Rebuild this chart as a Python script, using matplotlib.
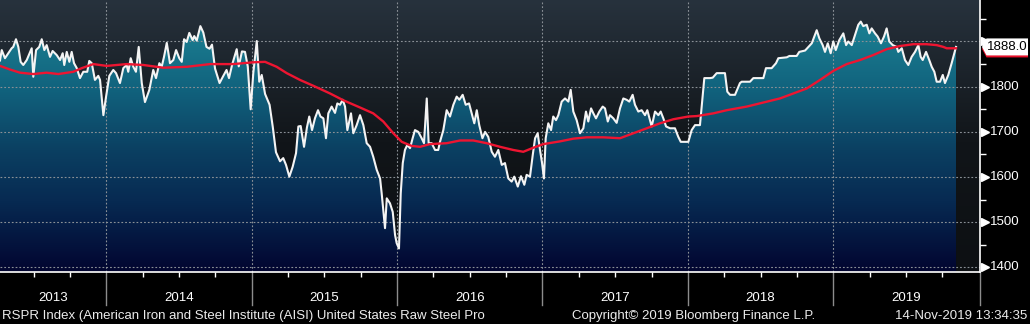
import numpy as np
import matplotlib
matplotlib.use("Agg")
import matplotlib.pyplot as plt
from matplotlib.colors import LinearSegmentedColormap
from matplotlib.patches import Polygon
import matplotlib.transforms as mtransforms

# ---------------- data ----------------
# time in decimal years, weekly RSPR index values
t_white = [
    2013.269, 2013.281, 2013.303, 2013.326, 2013.349, 2013.360, 2013.379, 2013.395, 2013.411, 2013.429,
    2013.453, 2013.487, 2013.498, 2013.517, 2013.539, 2013.556, 2013.574, 2013.590, 2013.613, 2013.631,
    2013.659, 2013.682, 2013.700, 2013.711, 2013.728, 2013.746, 2013.762, 2013.778, 2013.797, 2013.819,
    2013.842, 2013.869, 2013.883, 2013.900, 2013.922, 2013.945, 2013.957, 2013.980, 2013.998, 2014.021,
    2014.048, 2014.067, 2014.094, 2014.117, 2014.140, 2014.151, 2014.168, 2014.186, 2014.204, 2014.223,
    2014.244, 2014.266, 2014.296, 2014.323, 2014.342, 2014.365, 2014.381, 2014.397, 2014.416, 2014.438,
    2014.461, 2014.480, 2014.502, 2014.519, 2014.535, 2014.553, 2014.571, 2014.594, 2014.605, 2014.622,
    2014.647, 2014.667, 2014.689, 2014.710, 2014.727, 2014.748, 2014.779, 2014.805, 2014.827, 2014.844,
    2014.865, 2014.897, 2014.911, 2014.933, 2014.954, 2014.973, 2014.993, 2015.011, 2015.035, 2015.052,
    2015.069, 2015.092, 2015.123, 2015.145, 2015.167, 2015.195, 2015.217, 2015.236, 2015.259, 2015.282,
    2015.305, 2015.321, 2015.337, 2015.360, 2015.380, 2015.396, 2015.415, 2015.435, 2015.456, 2015.473,
    2015.493, 2015.511, 2015.527, 2015.550, 2015.573, 2015.589, 2015.607, 2015.626, 2015.642, 2015.658,
    2015.683, 2015.699, 2015.722, 2015.745, 2015.768, 2015.791, 2015.814, 2015.836, 2015.860, 2015.883,
    2015.894, 2015.905, 2015.917, 2015.929, 2015.951, 2015.970, 2015.986, 2015.997, 2016.013, 2016.025,
    2016.039, 2016.054, 2016.070, 2016.089, 2016.107, 2016.123, 2016.146, 2016.169, 2016.185, 2016.204,
    2016.217, 2016.238, 2016.261, 2016.283, 2016.295, 2016.318, 2016.341, 2016.364, 2016.387, 2016.410,
    2016.428, 2016.451, 2016.472, 2016.495, 2016.513, 2016.531, 2016.548, 2016.565, 2016.587, 2016.605,
    2016.627, 2016.651, 2016.673, 2016.696, 2016.720, 2016.742, 2016.765, 2016.788, 2016.806, 2016.830,
    2016.852, 2016.875, 2016.891, 2016.914, 2016.933, 2016.949, 2016.967, 2016.983, 2016.997, 2017.010,
    2017.022, 2017.040, 2017.059, 2017.074, 2017.093, 2017.109, 2017.132, 2017.155, 2017.178, 2017.194,
    2017.212, 2017.235, 2017.258, 2017.281, 2017.299, 2017.315, 2017.334, 2017.350, 2017.368, 2017.391,
    2017.414, 2017.430, 2017.449, 2017.464, 2017.487, 2017.510, 2017.533, 2017.556, 2017.579, 2017.597,
    2017.620, 2017.636, 2017.659, 2017.682, 2017.705, 2017.721, 2017.751, 2017.774, 2017.797, 2017.813,
    2017.831, 2017.850, 2017.877, 2017.911, 2017.934, 2017.951, 2018.003, 2018.026, 2018.049, 2018.083,
    2018.113, 2018.152, 2018.171, 2018.198, 2018.255, 2018.271, 2018.290, 2018.324, 2018.358, 2018.370,
    2018.427, 2018.450, 2018.519, 2018.537, 2018.576, 2018.606, 2018.622, 2018.680, 2018.698, 2018.748,
    2018.766, 2018.806, 2018.852, 2018.886, 2018.904, 2018.927, 2018.943, 2018.962, 2018.982, 2019.000,
    2019.017, 2019.041, 2019.069, 2019.088, 2019.103, 2019.127, 2019.149, 2019.172, 2019.189, 2019.206,
    2019.230, 2019.248, 2019.264, 2019.287, 2019.305, 2019.328, 2019.349, 2019.367, 2019.385, 2019.409,
    2019.436, 2019.447, 2019.471, 2019.493, 2019.516, 2019.539, 2019.562, 2019.585, 2019.601, 2019.615,
    2019.638, 2019.660, 2019.677, 2019.695, 2019.711, 2019.734, 2019.753, 2019.768, 2019.791, 2019.814,
    2019.844,
]
v_white = [
    1858, 1881, 1863, 1874, 1885, 1888, 1905, 1888, 1855, 1848,
    1859, 1885, 1822, 1881, 1888, 1905, 1881, 1892, 1866, 1879,
    1870, 1859, 1874, 1848, 1877, 1855, 1877, 1852, 1841, 1819,
    1833, 1833, 1857, 1852, 1815, 1824, 1815, 1737, 1777, 1824,
    1837, 1830, 1808, 1841, 1848, 1833, 1863, 1844, 1833, 1888,
    1808, 1766, 1793, 1837, 1819, 1852, 1844, 1866, 1897, 1852,
    1859, 1881, 1863, 1855, 1905, 1899, 1919, 1903, 1912, 1902,
    1934, 1920, 1888, 1884, 1893, 1840, 1808, 1824, 1837, 1819,
    1848, 1883, 1845, 1878, 1877, 1845, 1750, 1830, 1901, 1811,
    1826, 1784, 1760, 1711, 1655, 1635, 1642, 1627, 1601, 1623,
    1653, 1712, 1713, 1667, 1710, 1734, 1704, 1730, 1748, 1734,
    1730, 1686, 1741, 1756, 1742, 1763, 1760, 1771, 1756, 1704,
    1741, 1697, 1715, 1737, 1715, 1675, 1667, 1645, 1616, 1597,
    1564, 1527, 1487, 1553, 1542, 1523, 1472, 1454, 1442, 1564,
    1631, 1660, 1671, 1664, 1686, 1704, 1700, 1686, 1675, 1774,
    1675, 1675, 1660, 1660, 1678, 1704, 1748, 1734, 1760, 1778,
    1771, 1782, 1760, 1763, 1741, 1719, 1748, 1715, 1686, 1700,
    1689, 1656, 1645, 1660, 1627, 1631, 1597, 1590, 1601, 1579,
    1602, 1583, 1605, 1601, 1649, 1686, 1697, 1660, 1631, 1597,
    1686, 1719, 1704, 1734, 1726, 1737, 1767, 1774, 1767, 1793,
    1745, 1726, 1697, 1708, 1745, 1723, 1752, 1741, 1730, 1745,
    1756, 1752, 1723, 1737, 1730, 1720, 1752, 1774, 1771, 1767,
    1782, 1760, 1745, 1748, 1737, 1748, 1712, 1745, 1737, 1745,
    1730, 1712, 1708, 1708, 1689, 1678, 1678, 1704, 1715, 1715,
    1819, 1819, 1820, 1830, 1830, 1789, 1782, 1782, 1808, 1811,
    1811, 1819, 1819, 1841, 1841, 1852, 1863, 1865, 1868, 1868,
    1877, 1880, 1896, 1925, 1907, 1892, 1877, 1896, 1874, 1900,
    1881, 1903, 1918, 1892, 1900, 1892, 1914, 1937, 1944, 1934,
    1937, 1918, 1929, 1918, 1911, 1896, 1911, 1929, 1900, 1892,
    1888, 1877, 1885, 1859, 1848, 1866, 1877, 1892, 1866, 1859,
    1877, 1859, 1844, 1833, 1811, 1811, 1826, 1808, 1826, 1852,
    1888,
]
# moving average (red line)
t_ma = [
    2013.269, 2013.338, 2013.407, 2013.498, 2013.590, 2013.670, 2013.773, 2013.831, 2013.911, 2014.003,
    2014.140, 2014.255, 2014.392, 2014.553, 2014.713, 2014.873, 2015.011, 2015.092, 2015.172, 2015.241,
    2015.332, 2015.424, 2015.539, 2015.630, 2015.745, 2015.836, 2015.905, 2015.974, 2016.032, 2016.100,
    2016.158, 2016.226, 2016.341, 2016.433, 2016.524, 2016.616, 2016.708, 2016.799, 2016.868, 2016.937,
    2017.006, 2017.120, 2017.212, 2017.304, 2017.418, 2017.533, 2017.625, 2017.717, 2017.808, 2017.900,
    2018.003, 2018.061, 2018.175, 2018.267, 2018.405, 2018.519, 2018.633, 2018.725, 2018.817, 2018.909,
    2019.000, 2019.092, 2019.184, 2019.275, 2019.367, 2019.459, 2019.550, 2019.642, 2019.711, 2019.757,
    2019.780, 2019.844,
]
v_ma = [
    1846, 1838, 1831, 1828, 1831, 1828, 1833, 1841, 1850, 1846,
    1850, 1848, 1842, 1844, 1850, 1850, 1854, 1855, 1844, 1830,
    1815, 1802, 1785, 1770, 1754, 1741, 1723, 1697, 1678, 1669,
    1667, 1673, 1675, 1681, 1681, 1675, 1667, 1660, 1656, 1665,
    1673, 1679, 1685, 1688, 1688, 1686, 1697, 1708, 1719, 1728,
    1734, 1735, 1741, 1748, 1756, 1765, 1774, 1785, 1796, 1815,
    1835, 1850, 1859, 1870, 1883, 1890, 1894, 1894, 1892, 1888,
    1885, 1885,
]
years = [2013, 2014, 2015, 2016, 2017, 2018, 2019]
yticks = [1400, 1500, 1600, 1700, 1800, 1900]
last_value = 1888.0
title_text = "RSPR Index (American Iron and Steel Institute (AISI) United States Raw Steel Pro"
copyright_text = "Copyright\u00a9 2019 Bloomberg Finance L.P."
timestamp_text = "14-Nov-2019 13:34:35"

# ---------------- figure ----------------
plt.rcParams['font.family'] = ['Liberation Sans', 'DejaVu Sans']
FIG_W, FIG_H, DPI = 1030, 324, 100
fig = plt.figure(figsize=(FIG_W / DPI, FIG_H / DPI), dpi=DPI, facecolor='black')
AX_RIGHT_PX, AX_BOTTOM_PX = 980, 271.7
ax = fig.add_axes([0, 1 - AX_BOTTOM_PX / FIG_H, AX_RIGHT_PX / FIG_W, AX_BOTTOM_PX / FIG_H])
ax.set_facecolor('black')
XMIN, XMAX = 2013.269, 2020.009
YMIN, YMAX = 1390.7, 1991.8
ax.set_xlim(XMIN, XMAX)
ax.set_ylim(YMIN, YMAX)

grad = np.linspace(0, 1, 512).reshape(-1, 1)
bg_cmap = LinearSegmentedColormap.from_list(
    'bg', [(0.0, '#0d1013'), (0.48, '#111519'), (1.0, '#27323d')])
ax.imshow(grad, extent=[XMIN, XMAX, YMIN, YMAX], origin='lower', aspect='auto',
          cmap=bg_cmap, zorder=0, interpolation='bilinear')

fill_cmap = LinearSegmentedColormap.from_list(
    'fill', [(0.0, '#020530'), (0.26, '#072a52'), (0.45, '#0b4062'),
             (0.67, '#11627d'), (0.93, '#1c8294'), (1.0, '#1f8898')])
img = ax.imshow(grad, extent=[XMIN, XMAX, YMIN, YMAX], origin='lower', aspect='auto',
                cmap=fill_cmap, zorder=1, interpolation='bilinear')
tw = np.asarray(t_white)
vw = np.asarray(v_white)
verts = np.column_stack([np.r_[tw[0], tw, tw[-1]], np.r_[YMIN, vw, YMIN]])
clip = Polygon(verts, closed=True, transform=ax.transData, facecolor='none', edgecolor='none')
ax.add_patch(clip)
img.set_clip_path(clip)

# grid
grid_kw = dict(color='#8a9096', lw=0.8, dashes=(1.6, 1.8), zorder=2)
for y in yticks:
    ax.axhline(y, **grid_kw)
for yr in years[1:]:
    ax.axvline(yr, **grid_kw)

# lines
ax.plot(tw, vw, color='#f4f4f4', lw=1.5, zorder=3, solid_joinstyle='round')
ax.plot(t_ma, v_ma, color='#ee1531', lw=1.7, zorder=4, solid_joinstyle='round')

# spines
for s in ['top', 'left']:
    ax.spines[s].set_visible(False)
for s in ['bottom', 'right']:
    ax.spines[s].set_color('white')
    ax.spines[s].set_linewidth(1.2)
    ax.spines[s].set_zorder(5)

# x ticks
ax.set_xticks(years[1:])
quarters = [yr + q for yr in years for q in (0.25, 0.5, 0.75) if XMIN < yr + q < XMAX]
ax.set_xticks(quarters, minor=True)
ax.tick_params(axis='x', which='major', length=0, labelbottom=False)
ax.tick_params(axis='x', which='minor', length=3.5, width=1, color='white', direction='out')

# y ticks
ax.yaxis.tick_right()
ax.set_yticks(yticks)
ax.set_yticks([y + 50 for y in yticks], minor=True)
ax.tick_params(axis='y', which='major', length=0, labelright=False, labelleft=False)
ax.tick_params(axis='y', which='minor', length=4, width=1, color='white', direction='out')

ytrans = mtransforms.blended_transform_factory(ax.transAxes, ax.transData)
xtrans = mtransforms.blended_transform_factory(ax.transData, ax.transAxes)
ax.plot([1 + 4.5 / AX_RIGHT_PX] * len(yticks), yticks, transform=ytrans, ls='none',
        marker='>', ms=5.5, color='white', mec='white', clip_on=False, zorder=6)
for y in yticks:
    if abs(y - last_value) < 30:
        continue
    ax.text(1 + 10 / AX_RIGHT_PX, y, f"{y}", transform=ytrans, ha='left', va='center',
            color='white', fontsize=9.5)

# year separators and labels
sep_len = (305 - AX_BOTTOM_PX) / AX_BOTTOM_PX
for b in years[1:] + [XMAX]:
    ax.plot([b, b], [0, -sep_len], transform=xtrans, color='#8c8c8c', lw=1, clip_on=False)
for yr in years:
    c = (max(yr, XMIN) + min(yr + 1, XMAX)) / 2
    ax.text(c, -(297.7 - AX_BOTTOM_PX) / AX_BOTTOM_PX, str(yr), transform=xtrans,
            ha='center', va='center', color='white', fontsize=9.5)

# footer
fy = 1 - 316 / FIG_H
fig.text(2 / FIG_W, fy, title_text, ha='left', va='center', color='#ececec', fontsize=9.5)
fig.text(572 / FIG_W, fy, copyright_text, ha='left', va='center', color='#ececec', fontsize=9.5)
fig.text(1027 / FIG_W, fy, timestamp_text, ha='right', va='center', color='#ececec', fontsize=9.5)

# last value tag
yc = ax.transData.transform((XMIN, last_value))[1]
ident = mtransforms.IdentityTransform()
hh = 8.5
tag = [(982, yc), (986.5, yc + hh), (1028, yc + hh), (1028, yc - hh), (986.5, yc - hh)]
shadow = [(x, y - 2) for x, y in tag]
fig.add_artist(Polygon(shadow, closed=True, transform=ident, facecolor='#e8102a', edgecolor='none', zorder=7))
fig.add_artist(Polygon(tag, closed=True, transform=ident, facecolor='white', edgecolor='none', zorder=8))
fig.text(1007.5, yc, f"{last_value:.1f}", transform=ident, ha='center', va='center',
         color='black', fontsize=9.5, zorder=9)

fig.savefig('out.png', dpi=DPI, facecolor='black')
